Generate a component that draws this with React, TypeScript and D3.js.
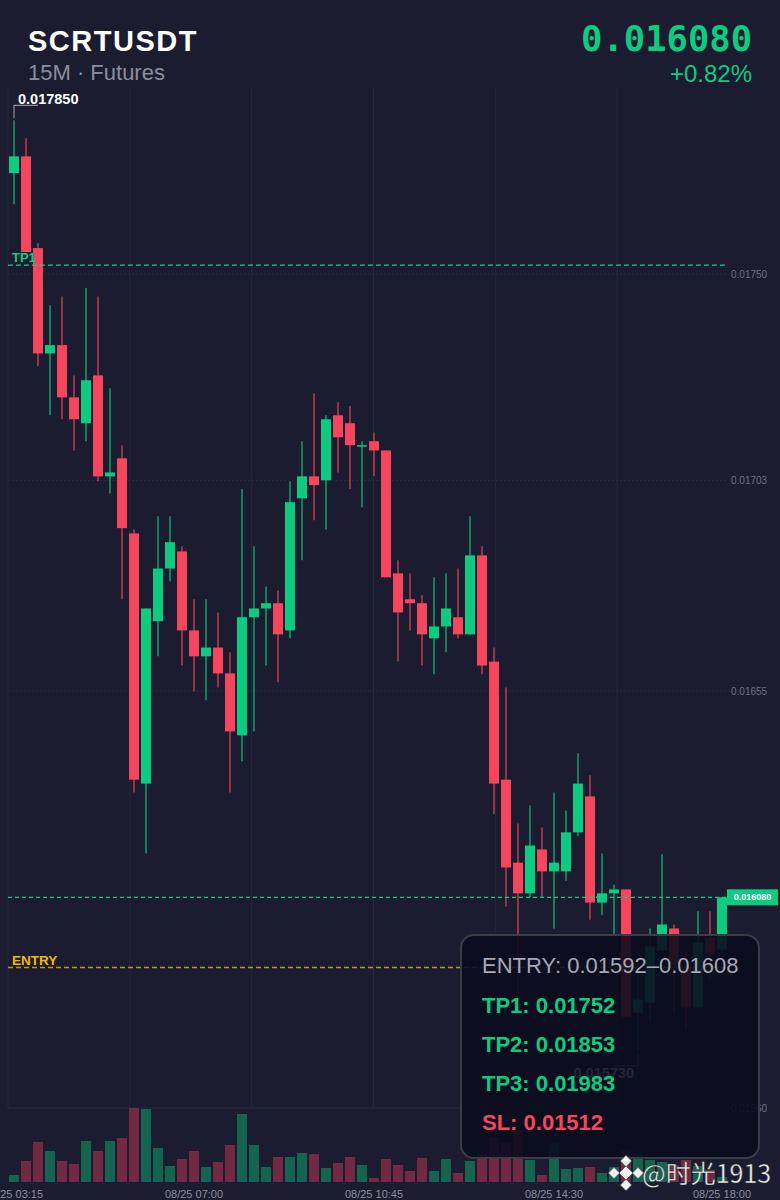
import React from 'react';
import * as d3 from 'd3';

// Header info
const symbol = 'SCRTUSDT';
const subtitle = '15M · Futures';
const changePct = 0.82;

// 15m candles, 08/25 03:15 -> 18:00
const opens = [
  0.017730, 0.017768, 0.017559, 0.017319, 0.017338, 0.017219, 0.017160, 0.017269, 0.017039, 0.017080,
  0.016909, 0.016339, 0.016709, 0.016829, 0.016868, 0.016688, 0.016629, 0.016649, 0.016590, 0.016449,
  0.016718, 0.016738, 0.016750, 0.016688, 0.016989, 0.017039, 0.017030, 0.017178, 0.017160, 0.017107,
  0.017119, 0.017098, 0.016818, 0.016759, 0.016750, 0.016670, 0.016697, 0.016718, 0.016679, 0.016859,
  0.016617, 0.016348, 0.016159, 0.016089, 0.016189, 0.016139, 0.016139, 0.016228, 0.016310, 0.016068,
  0.016089, 0.016098, 0.015817, 0.015840, 0.015959, 0.016009, 0.015920, 0.015829, 0.015988, 0.015961,
];
const highs = [
  0.017850, 0.017809, 0.017570, 0.017429, 0.017449, 0.017269, 0.017468, 0.017449, 0.017240, 0.017110,
  0.016918, 0.016738, 0.016948, 0.016948, 0.016880, 0.016759, 0.016759, 0.016729, 0.016638, 0.017010,
  0.016880, 0.016788, 0.016779, 0.017028, 0.017119, 0.017228, 0.017178, 0.017208, 0.017199, 0.017119,
  0.017139, 0.017098, 0.016848, 0.016818, 0.016768, 0.016809, 0.016818, 0.016829, 0.016948, 0.016880,
  0.016649, 0.016558, 0.016248, 0.016289, 0.016239, 0.016319, 0.016278, 0.016408, 0.016358, 0.016180,
  0.016109, 0.016098, 0.015909, 0.016009, 0.016178, 0.016018, 0.015956, 0.016048, 0.016048, 0.016080,
];
const lows = [
  0.017659, 0.017550, 0.017290, 0.017178, 0.017169, 0.017098, 0.017119, 0.017028, 0.017000, 0.016759,
  0.016319, 0.016180, 0.016629, 0.016800, 0.016608, 0.016549, 0.016529, 0.016558, 0.016319, 0.016390,
  0.016458, 0.016608, 0.016570, 0.016670, 0.016848, 0.016939, 0.016918, 0.017048, 0.017010, 0.016968,
  0.017039, 0.016809, 0.016617, 0.016688, 0.016608, 0.016588, 0.016638, 0.016670, 0.016679, 0.016588,
  0.016269, 0.016059, 0.015847, 0.016080, 0.016080, 0.016009, 0.016118, 0.016219, 0.016029, 0.016039,
  0.015991, 0.015808, 0.015730, 0.015799, 0.015959, 0.015817, 0.015779, 0.015829, 0.015893, 0.015950,
];
const closes = [
  0.017768, 0.017550, 0.017319, 0.017338, 0.017219, 0.017169, 0.017258, 0.017039, 0.017048, 0.016921,
  0.016348, 0.016738, 0.016829, 0.016889, 0.016688, 0.016629, 0.016649, 0.016590, 0.016458, 0.016718,
  0.016738, 0.016750, 0.016679, 0.016980, 0.017039, 0.017019, 0.017169, 0.017128, 0.017110, 0.017110,
  0.017098, 0.016809, 0.016729, 0.016750, 0.016679, 0.016697, 0.016738, 0.016679, 0.016859, 0.016608,
  0.016339, 0.016148, 0.016089, 0.016198, 0.016139, 0.016159, 0.016228, 0.016339, 0.016068, 0.016089,
  0.016098, 0.015808, 0.015847, 0.015968, 0.016018, 0.015927, 0.015829, 0.015977, 0.015950, 0.016080,
];
const volumes = [
  7, 21, 40, 31, 21, 18, 41, 31, 41, 44,
  74, 73, 34, 16, 23, 31, 15, 20, 37, 68,
  37, 15, 25, 25, 29, 28, 14, 19, 25, 17,
  4, 23, 17, 11, 24, 11, 23, 9, 21, 29,
  45, 39, 52, 22, 7, 39, 13, 14, 15, 9,
  15, 32, 29, 22, 20, 17, 22, 16, 12, 5,
];

const xTickIndex = [0, 15, 30, 45, 59];
const xTickLabels = ['08/25 03:15', '08/25 07:00', '08/25 10:45', '08/25 14:30', '08/25 18:00'];
const yTickValues = [0.0175, 0.01703, 0.01655, 0.01608, 0.0156];

const entryRange = [0.01592, 0.01608];
const targetNames = ['TP1', 'TP2', 'TP3'];
const targetValues = [0.01752, 0.01853, 0.01983];
const stopLoss = 0.01512;
const watermark = '@时光1913';

const W = 780;
const H = 1200;
const GREEN = '#0ecb81';
const RED = '#f6465d';
const BG = '#1b1c2f';
const SANS = '"Liberation Sans", Arial, sans-serif';

export default function App() {
  const n = closes.length;
  const left = 8, right = 728, top = 88, priceBottom = 1108, volBottom = 1182;

  const x = d3.scaleBand<number>().domain(d3.range(n)).range([left, right])
    .paddingInner(1 / 6).paddingOuter(1 / 12);
  const bw = x.bandwidth();
  const cx = (i: number) => (x(i) as number) + bw / 2;
  const y = d3.scaleLinear().domain([0.0156, 0.0175]).range([priceBottom, 274]);
  const v = d3.scaleLinear().domain([0, d3.max(volumes) as number]).range([volBottom, priceBottom]);
  const gridX = d3.scaleLinear().domain([0, 6]).range([left, 739]);

  const fmt6 = d3.format('.6f');
  const fmt5 = d3.format('.5f');
  const last = closes[n - 1];
  const hiIdx = d3.maxIndex(highs);
  const loIdx = d3.minIndex(lows);

  // axis labels hidden by the last-price tag are not drawn
  const visibleTicks = yTickValues.filter((t) => Math.abs(y(t) - y(last)) > 9);

  return (
    <svg width={W} height={H} viewBox={`0 0 ${W} ${H}`}
      style={{ position: 'absolute', left: 0, top: 0, display: 'block', background: BG }}>
      <rect x={0} y={0} width={W} height={H} fill={BG} />

      {/* header */}
      <text x={28} y={51} fill="#ffffff" fontFamily={SANS} fontWeight={700} fontSize={29} letterSpacing={1.5}>{symbol}</text>
      <text x={28} y={80} fill="#8b8e9e" fontFamily={SANS} fontSize={22}>{subtitle}</text>
      <text x={752} y={51} textAnchor="end" fill={GREEN} fontFamily='"DejaVu Sans Mono", monospace' fontWeight={700} fontSize={35.5}>{fmt6(last)}</text>
      <text x={752} y={82} textAnchor="end" fill={GREEN} fontFamily={SANS} fontSize={24}>{`+${changePct.toFixed(2)}%`}</text>

      {/* grid */}
      {d3.range(6).map((k) => (
        <line key={'gx' + k} x1={gridX(k)} x2={gridX(k)} y1={top} y2={priceBottom} stroke="#262838" strokeWidth={1} />
      ))}
      {yTickValues.map((t, k) => (
        <line key={'gy' + k} x1={left} x2={right} y1={y(t)} y2={y(t)} stroke="#2a2c3f" strokeWidth={1}
          strokeDasharray={k === yTickValues.length - 1 ? undefined : '2,2'} />
      ))}
      {visibleTicks.map((t, k) => (
        <text key={'yl' + k} x={731} y={y(t)} dy="0.35em" fill="#6e7182" fontFamily={SANS} fontSize={10}>{fmt5(t)}</text>
      ))}

      {/* volume */}
      {volumes.map((vol, i) => (
        <rect key={'v' + i} x={x(i)} y={v(vol)} width={bw} height={volBottom - v(vol)}
          fill={closes[i] >= opens[i] ? '#14644f' : '#722a44'} />
      ))}

      {/* candles */}
      {closes.map((c, i) => {
        const up = c >= opens[i];
        const col = up ? GREEN : RED;
        const yTop = y(Math.max(opens[i], c));
        const yBot = y(Math.min(opens[i], c));
        return (
          <g key={'c' + i}>
            <line x1={cx(i)} x2={cx(i)} y1={y(highs[i])} y2={y(lows[i])} stroke={col} strokeOpacity={0.75} strokeWidth={1.5} />
            <rect x={x(i)} y={yTop} width={bw} height={Math.max(1.5, yBot - yTop)} fill={col} />
          </g>
        );
      })}

      {/* TP1 line */}
      <line x1={left} x2={right} y1={y(targetValues[0])} y2={y(targetValues[0])} stroke={GREEN} strokeWidth={1.3} strokeDasharray="5,3" />
      <text x={12} y={y(targetValues[0]) - 3} fill={GREEN} fontFamily={SANS} fontWeight={700} fontSize={13}>{targetNames[0]}</text>

      {/* entry line */}
      <line x1={left} x2={right} y1={y(entryRange[0])} y2={y(entryRange[0])} stroke="#c8930f" strokeWidth={1.4} strokeDasharray="5,3" />
      <text x={12} y={y(entryRange[0]) - 3} fill="#f0b90b" fontFamily={SANS} fontWeight={700} fontSize={13.5}>ENTRY</text>

      {/* current price */}
      <line x1={left} x2={right} y1={y(last)} y2={y(last)} stroke={GREEN} strokeWidth={1.2} strokeDasharray="4,3" />
      <rect x={727} y={y(last) - 8} width={51} height={16} fill={GREEN} />
      <text x={752.5} y={y(last)} dy="0.35em" textAnchor="middle" fill="#ffffff" fontFamily={SANS} fontWeight={700} fontSize={9}>{fmt6(last)}</text>

      {/* high / low markers */}
      <path d={`M${cx(hiIdx)},${y(highs[hiIdx]) - 2}V${y(highs[hiIdx]) - 15}H${cx(hiIdx) + 24}`} fill="none" stroke="#8e909c" strokeWidth={1.2} />
      <text x={cx(hiIdx) + 4} y={y(highs[hiIdx]) - 16.5} fill="#ffffff" fontFamily={SANS} fontWeight={700} fontSize={14.5}>{fmt6(highs[hiIdx])}</text>
      <path d={`M${cx(loIdx)},${y(lows[loIdx]) + 2}V${y(lows[loIdx]) + 15}H${cx(loIdx) - 24}`} fill="none" stroke="#8e909c" strokeWidth={1.2} />
      <text x={cx(loIdx) - 4} y={y(lows[loIdx]) + 27} textAnchor="end" fill="#ffffff" fontFamily={SANS} fontWeight={700} fontSize={14.5}>{fmt6(lows[loIdx])}</text>

      {/* x axis labels */}
      {xTickIndex.map((idx, k) => (
        <text key={'xl' + k} x={cx(idx)} y={1198} textAnchor="middle" fill="#8b8e9e" fontFamily={SANS} fontSize={11}>{xTickLabels[k]}</text>
      ))}

      {/* info box */}
      <rect x={461} y={935} width={298} height={223} rx={13} fill="#0b0c1e" fillOpacity={0.9} stroke="#3c3c46" strokeWidth={2} />
      <text x={482} y={973} fill="#a6a8b6" fontFamily={SANS} fontSize={22}>{`ENTRY: ${fmt5(entryRange[0])}–${fmt5(entryRange[1])}`}</text>
      {targetValues.map((t, k) => (
        <text key={'tp' + k} x={482} y={1013 + k * 39} fill={GREEN} fontFamily={SANS} fontWeight={700} fontSize={22}>{`${targetNames[k]}: ${fmt5(t)}`}</text>
      ))}
      <text x={482} y={1130} fill={RED} fontFamily={SANS} fontWeight={700} fontSize={22}>{`SL: ${fmt5(stopLoss)}`}</text>

      {/* watermark */}
      <g transform="translate(626,1173)" fill="#f4f4f4" stroke="#444" strokeWidth={0.7}>
        <rect x={-5} y={-5} width={10} height={10} transform="rotate(45)" />
        <rect x={-4} y={-4} width={8} height={8} transform="translate(0,-12) rotate(45)" />
        <rect x={-4} y={-4} width={8} height={8} transform="translate(0,12) rotate(45)" />
        <rect x={-4} y={-4} width={8} height={8} transform="translate(-12,0) rotate(45)" />
        <rect x={-4} y={-4} width={8} height={8} transform="translate(12,0) rotate(45)" />
      </g>
      <text x={642} y={1183} fill="#f0f0f0" fontFamily='"Noto Sans CJK SC", "Noto Sans", sans-serif' fontSize={25}
        stroke="#333" strokeWidth={0.4}>{watermark}</text>
    </svg>
  );
}
